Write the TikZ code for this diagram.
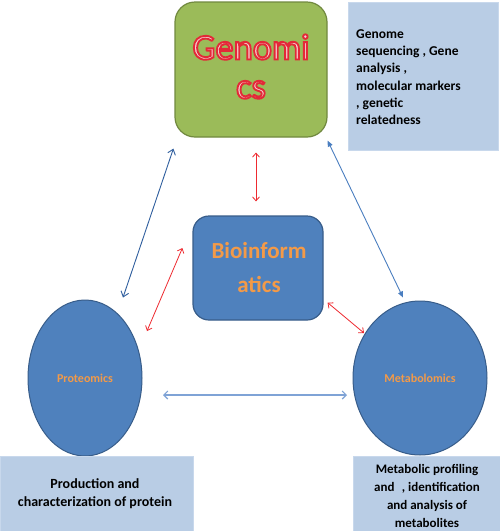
\documentclass[tikz,border=0pt]{standalone}
\usepackage{fontspec}
\setmainfont{Carlito}
\usetikzlibrary{arrows.meta,shapes.geometric}
\definecolor{gfill}{HTML}{9BBB59}
\definecolor{gline}{HTML}{71893F}
\definecolor{bfill}{HTML}{4F81BD}
\definecolor{bline}{HTML}{385D8A}
\definecolor{ifill}{HTML}{B9CDE5}
\definecolor{iline}{HTML}{C8D8EC}
\definecolor{gpink}{HTML}{F8D0D2}
\definecolor{orng}{HTML}{F39A48}
\definecolor{arred}{HTML}{EE2A30}
\definecolor{dblue}{HTML}{2F5E9E}
\definecolor{mblue}{HTML}{4A7EC0}
\definecolor{lblue}{HTML}{7FA3D6}
\newcommand\outlinedtext[1]{\textcolor{gpink}{\special{pdf:literal direct 2 Tr 1.9 w 0.89 0.16 0.22 RG}#1\special{pdf:literal direct 0 Tr}}}
\tikzset{
  gbox/.style={draw=gline, line width=1.2pt, fill=gfill, rounded corners=20pt, inner sep=0pt},
  bbox/.style={draw=bline, line width=1.2pt, fill=bfill, rounded corners=16pt, inner sep=0pt},
  ell/.style={ellipse, draw=bline, line width=1pt, fill=bfill, inner sep=0pt,
    font=\fontsize{12}{14}\selectfont\bfseries, text=orng},
  ibox/.style={draw=iline, line width=1pt, fill=ifill, inner sep=0pt},
  itext/.style={font=\fontsize{13}{18}\selectfont\bfseries, text=black, inner sep=0pt},
  gtitle/.style={font=\fontsize{36.5}{36.5}\selectfont, inner sep=0pt, anchor=base},
  btitle/.style={font=\fontsize{23}{23}\selectfont\bfseries, text=orng, inner sep=0pt, anchor=base},
  redarr/.style={draw=arred, line width=0.8pt, {Straight Barb[length=4pt,width=7pt]}-{Straight Barb[length=4pt,width=7pt]}},
  darr/.style={draw=dblue, line width=0.9pt, {Straight Barb[length=5pt,width=8pt]}-{Straight Barb[length=5pt,width=8pt]}},
  marr/.style={draw=mblue, line width=0.9pt, {Triangle[length=6pt,width=5pt]}-{Triangle[length=6pt,width=5pt]}},
  larr/.style={draw=lblue, line width=1.1pt, {Straight Barb[length=4pt,width=8pt]}-{Straight Barb[length=4pt,width=8pt]}}
}
\begin{document}
\begin{tikzpicture}[x=1pt,y=-1pt]
\useasboundingbox[fill=white] (0,0) rectangle (500,531);
% main nodes
\node[gbox, minimum width=152pt, minimum height=135pt] (gen) at (251,69.5) {};
\node[gtitle] (gent1) at (251,59.5) {\outlinedtext{Genomi}};
\node[gtitle] (gent2) at (251,98.5) {\outlinedtext{cs}};
\node[ibox, minimum width=150pt, minimum height=148pt] (ginfo) at (423,76) {};
\node[itext, font=\fontsize{13.5}{17.3}\selectfont\bfseries, align=left, anchor=west] (ginfot) at (356,77) {Genome\\sequencing , Gene\\analysis ,\\molecular markers\\, genetic\\relatedness};
\node[bbox, minimum width=130pt, minimum height=104pt] (bio) at (258,268) {};
\node[btitle] (biot1) at (259,258) {Bioinform};
\node[btitle] (biot2) at (259,292) {atics};
\node[ell, minimum width=114pt, minimum height=156pt] (pro) at (85,378) {Proteomics};
\node[ell, minimum width=134pt, minimum height=154pt] (met) at (420,378) {Metabolomics};
\node[ibox, minimum width=193pt, minimum height=75pt] (pinfo) at (96.5,493.5) {};
\node[itext, font=\fontsize{14}{18}\selectfont\bfseries, align=center] (pinfot) at (95,494) {Production and\\characterization of protein};
\node[ibox, minimum width=147pt, minimum height=75pt] (minfo) at (426.5,493.5) {};
\node[itext, align=center] (minfot) at (427,496) {Metabolic profiling\\and\,\, , identification\\and analysis of\\metabolites};
% connectors
\draw[redarr] ([xshift=5pt,yshift=-15pt]gen.south) -- ([xshift=-2pt,yshift=14pt]bio.north);
\draw[redarr] ([xshift=-10pt,yshift=20pt]bio.west) -- ([xshift=62pt,yshift=47pt]pro.center);
\draw[redarr] ([xshift=4pt,yshift=18pt]bio.south east) -- ([xshift=-56pt,yshift=45pt]met.center);
\draw[darr] ([xshift=-1pt,yshift=-11pt]gen.south west) -- ([xshift=38pt,yshift=2pt]pro.north);
\draw[marr] ([yshift=-3pt]gen.south east) -- ([xshift=-17pt,yshift=3pt]met.north);
\draw[larr] ([xshift=78pt,yshift=-17pt]pro.center) -- ([xshift=-73pt,yshift=-17pt]met.center);
\end{tikzpicture}
\end{document}
